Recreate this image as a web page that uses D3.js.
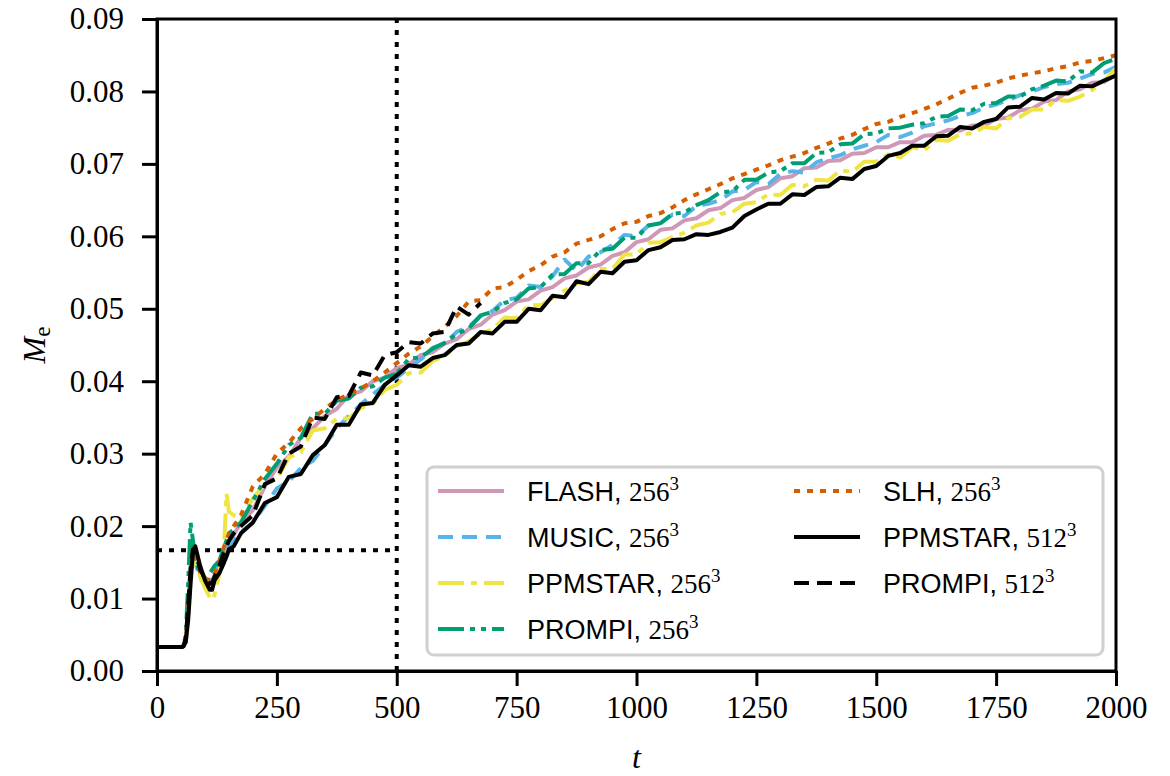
<!DOCTYPE html>
<html>
<head>
<meta charset="utf-8">
<script src="https://cdn.jsdelivr.net/npm/d3@7"></script>
<style>
  body { margin: 0; background: #fff; }
  .axis path, .axis line { stroke: #000; stroke-width: 3px; }
  .legend text { font-family: "Liberation Sans", Arial, sans-serif; font-size: 27px; fill: #000; }
  .legend .num { font-family: "Liberation Serif", "Times New Roman", serif; }
</style>
</head>
<body>
<div class="chartdiv"></div>
<script>
/*
entrained mass M_e against time t for the different codes
*/

// time grid shared by all runs
var tGrid = [0, 50, 55, 60, 65, 70, 75, 80, 90, 100, 110, 115, 120, 130, 140, 145, 150, 160, 175,
  200, 225, 250, 275, 300, 325, 350, 375, 400, 425, 450, 475, 500, 525, 550, 575, 600, 625, 650, 675,
  700, 725, 750, 775, 800, 825, 850, 875, 900, 925, 950, 975, 1000, 1025, 1050, 1075, 1100, 1125,
  1150, 1175, 1200, 1225, 1250, 1275, 1300, 1325, 1350, 1375, 1400, 1425, 1450, 1475, 1500, 1525,
  1550, 1575, 1600, 1625, 1650, 1675, 1700, 1725, 1750, 1775, 1800, 1825, 1850, 1875, 1900, 1925,
  1950, 1975, 2000];

// FLASH, 256^3
var flash = [0.0033, 0.0033, 0.0034, 0.0042, 0.0090, 0.0145, 0.0172, 0.0165, 0.0135, 0.0128, 0.0122, 0.0125, 0.0132, 0.0148, 0.0165, 0.0172, 0.0178, 0.0188, 0.0205,
  0.0222, 0.0255, 0.0281, 0.0296, 0.0322, 0.0335, 0.0352, 0.0362, 0.0381, 0.0386, 0.0400, 0.0405, 0.0418, 0.0423, 0.0436, 0.0440, 0.0452, 0.0458, 0.0472, 0.0478,
  0.0492, 0.0498, 0.0510, 0.0513, 0.0525, 0.0530, 0.0542, 0.0546, 0.0557, 0.0561, 0.0573, 0.0578, 0.0592, 0.0596, 0.0609, 0.0611, 0.0622, 0.0625,
  0.0636, 0.0639, 0.0650, 0.0653, 0.0664, 0.0668, 0.0680, 0.0683, 0.0694, 0.0695, 0.0704, 0.0705, 0.0714, 0.0715, 0.0723, 0.0723,
  0.0730, 0.0730, 0.0739, 0.0740, 0.0747, 0.0746, 0.0753, 0.0753, 0.0762, 0.0764, 0.0774, 0.0776, 0.0786, 0.0788, 0.0800, 0.0803,
  0.0812, 0.0813, 0.0824];

// MUSIC, 256^3
var music = [0.0033, 0.0033, 0.0034, 0.0040, 0.0080, 0.0135, 0.0160, 0.0150, 0.0128, 0.0120, 0.0125, 0.0130, 0.0138, 0.0150, 0.0160, 0.0165, 0.0172, 0.0180, 0.0192,
  0.0205, 0.0228, 0.0252, 0.0262, 0.0280, 0.0290, 0.0312, 0.0335, 0.0352, 0.0368, 0.0382, 0.0395, 0.0405, 0.0418, 0.0430, 0.0446, 0.0452, 0.0468, 0.0475, 0.0490,
  0.0497, 0.0512, 0.0515, 0.0532, 0.0530, 0.0545, 0.0568, 0.0552, 0.0572, 0.0578, 0.0588, 0.0602, 0.0600, 0.0615, 0.0618, 0.0630, 0.0628, 0.0642,
  0.0645, 0.0650, 0.0662, 0.0664, 0.0675, 0.0672, 0.0686, 0.0690, 0.0688, 0.0702, 0.0708, 0.0712, 0.0720, 0.0725, 0.0730, 0.0740,
  0.0737, 0.0743, 0.0752, 0.0756, 0.0760, 0.0766, 0.0770, 0.0778, 0.0782, 0.0788, 0.0795, 0.0800, 0.0806, 0.0810, 0.0812, 0.0818,
  0.0824, 0.0826, 0.0834];

// PPMSTAR, 256^3
var ppmstar256 = [0.0033, 0.0033, 0.0034, 0.0040, 0.0080, 0.0130, 0.0160, 0.0150, 0.0130, 0.0115, 0.0102, 0.0098, 0.0105, 0.0135, 0.0175, 0.0245, 0.0220, 0.0215, 0.0210,
  0.0238, 0.0258, 0.0265, 0.0295, 0.0302, 0.0332, 0.0335, 0.0348, 0.0349, 0.0363, 0.0369, 0.0388, 0.0395, 0.0411, 0.0412, 0.0428, 0.0435, 0.0448, 0.0455, 0.0465,
  0.0472, 0.0488, 0.0487, 0.0505, 0.0505, 0.0515, 0.0525, 0.0535, 0.0537, 0.0555, 0.0555, 0.0575, 0.0575, 0.0591, 0.0592, 0.0599, 0.0605, 0.0615,
  0.0619, 0.0631, 0.0633, 0.0645, 0.0647, 0.0658, 0.0657, 0.0671, 0.0669, 0.0678, 0.0677, 0.0691, 0.0689, 0.0703, 0.0703, 0.0713,
  0.0709, 0.0723, 0.0719, 0.0733, 0.0732, 0.0741, 0.0742, 0.0751, 0.0749, 0.0763, 0.0765, 0.0775, 0.0775, 0.0788, 0.0787, 0.0793,
  0.0802, 0.0815, 0.0832];

// PROMPI, 256^3
var prompi256 = [0.0033, 0.0033, 0.0034, 0.0050, 0.0120, 0.0205, 0.0180, 0.0152, 0.0135, 0.0130, 0.0135, 0.0140, 0.0145, 0.0152, 0.0172, 0.0180, 0.0190, 0.0195, 0.0205,
  0.0235, 0.0265, 0.0286, 0.0312, 0.0322, 0.0355, 0.0355, 0.0373, 0.0376, 0.0391, 0.0393, 0.0405, 0.0410, 0.0431, 0.0433, 0.0445, 0.0453, 0.0465, 0.0473, 0.0491,
  0.0496, 0.0508, 0.0513, 0.0528, 0.0530, 0.0547, 0.0548, 0.0563, 0.0563, 0.0581, 0.0583, 0.0598, 0.0598, 0.0615, 0.0618, 0.0631, 0.0633, 0.0643,
  0.0650, 0.0661, 0.0662, 0.0678, 0.0678, 0.0688, 0.0690, 0.0701, 0.0701, 0.0715, 0.0716, 0.0727, 0.0728, 0.0741, 0.0742, 0.0749,
  0.0750, 0.0754, 0.0756, 0.0765, 0.0766, 0.0775, 0.0774, 0.0783, 0.0784, 0.0793, 0.0793, 0.0803, 0.0808, 0.0815, 0.0814, 0.0828,
  0.0826, 0.0839, 0.0845];

// SLH, 256^3
var slh = [0.0033, 0.0033, 0.0034, 0.0042, 0.0085, 0.0140, 0.0168, 0.0160, 0.0135, 0.0128, 0.0125, 0.0128, 0.0135, 0.0150, 0.0172, 0.0180, 0.0190, 0.0200, 0.0215,
  0.0255, 0.0272, 0.0300, 0.0315, 0.0335, 0.0348, 0.0362, 0.0374, 0.0382, 0.0390, 0.0400, 0.0412, 0.0425, 0.0438, 0.0448, 0.0462, 0.0475, 0.0490, 0.0510, 0.0512,
  0.0528, 0.0530, 0.0540, 0.0552, 0.0560, 0.0572, 0.0578, 0.0590, 0.0595, 0.0600, 0.0610, 0.0618, 0.0620, 0.0628, 0.0632, 0.0640, 0.0650, 0.0658,
  0.0665, 0.0672, 0.0680, 0.0686, 0.0692, 0.0698, 0.0705, 0.0710, 0.0715, 0.0722, 0.0728, 0.0735, 0.0740, 0.0748, 0.0755, 0.0758,
  0.0765, 0.0770, 0.0776, 0.0782, 0.0790, 0.0798, 0.0805, 0.0808, 0.0812, 0.0818, 0.0822, 0.0825, 0.0828, 0.0832, 0.0835, 0.0840,
  0.0842, 0.0846, 0.0850];

// PPMSTAR, 512^3
var ppmstar512 = [0.0033, 0.0033, 0.0034, 0.0040, 0.0070, 0.0120, 0.0165, 0.0172, 0.0145, 0.0125, 0.0112, 0.0112, 0.0125, 0.0135, 0.0150, 0.0158, 0.0168, 0.0172, 0.0190,
  0.0205, 0.0232, 0.0240, 0.0268, 0.0272, 0.0298, 0.0312, 0.0340, 0.0340, 0.0368, 0.0370, 0.0395, 0.0408, 0.0422, 0.0420, 0.0432, 0.0436, 0.0450, 0.0452, 0.0468,
  0.0466, 0.0482, 0.0482, 0.0500, 0.0498, 0.0518, 0.0516, 0.0538, 0.0534, 0.0551, 0.0549, 0.0565, 0.0567, 0.0581, 0.0585, 0.0595, 0.0596, 0.0603,
  0.0602, 0.0606, 0.0612, 0.0628, 0.0637, 0.0645, 0.0645, 0.0658, 0.0657, 0.0668, 0.0669, 0.0681, 0.0679, 0.0693, 0.0697, 0.0711,
  0.0715, 0.0725, 0.0725, 0.0738, 0.0739, 0.0751, 0.0749, 0.0758, 0.0762, 0.0778, 0.0779, 0.0791, 0.0789, 0.0798, 0.0797, 0.0808,
  0.0807, 0.0815, 0.0822];

// PROMPI, 512^3 (run stops near t = 680)
var prompi512 = [0.0033, 0.0033, 0.0034, 0.0045, 0.0090, 0.0140, 0.0168, 0.0165, 0.0140, 0.0128, 0.0120, 0.0122, 0.0130, 0.0145, 0.0165, 0.0172, 0.0180, 0.0190, 0.0200,
  0.0215, 0.0258, 0.0266, 0.0300, 0.0310, 0.0350, 0.0348, 0.0378, 0.0380, 0.0412, 0.0408, 0.0436, 0.0440, 0.0454, 0.0452, 0.0466, 0.0468, 0.0503, 0.0492, 0.0508];

// tick labels
var xTicks = [0, 250, 500, 750, 1000, 1250, 1500, 1750, 2000];
var yTicks = [0, 0.01, 0.02, 0.03, 0.04, 0.05, 0.06, 0.07, 0.08, 0.09];

// dotted reference lines
var refT = 500;
var refM = 0.01667;

// series, in drawing order
var runs = [
  {code: "FLASH", res: "256", values: flash, color: "#cf98b6", dash: null},
  {code: "MUSIC", res: "256", values: music, color: "#56b4e9", dash: "15,9"},
  {code: "PPMSTAR", res: "256", values: ppmstar256, color: "#f0e442", dash: "26,7,6,7"},
  {code: "PROMPI", res: "256", values: prompi256, color: "#009e73", dash: "26,6,5,6,5,6"},
  {code: "SLH", res: "256", values: slh, color: "#d55e00", dash: "6,7"},
  {code: "PPMSTAR", res: "512", values: ppmstar512, color: "#000000", dash: null},
  {code: "PROMPI", res: "512", values: prompi512, color: "#000000", dash: "15,8"}
];

// set padding around the plot
var margin = {top: 19, right: 54, bottom: 105, left: 157};
var width = 1170 - margin.left - margin.right;
var height = 776 - margin.top - margin.bottom;

var x = d3.scaleLinear().domain([0, 2000]).range([0, width]);
var y = d3.scaleLinear().domain([0, 0.09]).range([height, 0]);

var svg = d3.select(".chartdiv")
    .append("svg")
    .attr("width", width + margin.left + margin.right)
    .attr("height", height + margin.top + margin.bottom)
    .append("g")
    .attr("transform", "translate(" + margin.left + "," + margin.top + ")");

svg.append("clipPath")
    .attr("id", "plotclip")
  .append("rect")
    .attr("width", width)
    .attr("height", height);

// dotted guides
svg.append("line")
    .attr("x1", x(0)).attr("x2", x(refT))
    .attr("y1", y(refM)).attr("y2", y(refM))
    .attr("stroke", "#000").attr("stroke-width", 4)
    .attr("stroke-dasharray", "5,7");

svg.append("line")
    .attr("x1", x(refT)).attr("x2", x(refT))
    .attr("y1", y(0)).attr("y2", y(0.09))
    .attr("stroke", "#000").attr("stroke-width", 4)
    .attr("stroke-dasharray", "5,7");

// the curves
var line = d3.line()
    .x(function(d) { return x(d[0]); })
    .y(function(d) { return y(d[1]); });

var curves = svg.append("g").attr("clip-path", "url(#plotclip)");

runs.forEach(function(r) {
  var pts = r.values.map(function(v, i) { return [tGrid[i], v]; });
  curves.append("path")
      .datum(pts)
      .attr("d", line)
      .attr("fill", "none")
      .attr("stroke", r.color)
      .attr("stroke-width", 4)
      .attr("stroke-linejoin", "round")
      .attr("stroke-dasharray", r.dash);
});

// axes
var xAxisG = svg.append("g")
    .classed("axis", true)
    .attr("transform", "translate(0," + height + ")")
    .call(d3.axisBottom(x).tickValues(xTicks).tickSize(15).tickSizeOuter(0).tickPadding(10)
      .tickFormat(d3.format("d")));

var yAxisG = svg.append("g")
    .classed("axis", true)
    .call(d3.axisLeft(y).tickValues(yTicks).tickSize(15).tickSizeOuter(0).tickPadding(18)
      .tickFormat(d3.format(".2f")));

[xAxisG, yAxisG].forEach(function(g) {
  g.attr("font-family", null).attr("font-size", null);
  g.selectAll("text")
      .style("font-family", "'Liberation Serif', 'Times New Roman', serif")
      .style("font-size", "31px")
      .style("fill", "#000");
});

// frame
svg.append("rect")
    .attr("width", width)
    .attr("height", height)
    .attr("fill", "none")
    .attr("stroke", "#000")
    .attr("stroke-width", 3);

// axis labels
svg.append("text")
    .attr("x", width / 2)
    .attr("y", height + 97)
    .style("font-family", "'Liberation Serif', serif")
    .style("font-size", "32px")
    .style("font-style", "italic")
    .style("text-anchor", "middle")
    .text("t");

var ylab = svg.append("text")
    .attr("transform", "translate(" + (-112) + "," + (height / 2) + ") rotate(-90)")
    .style("font-family", "'Liberation Serif', serif")
    .style("font-size", "32px")
    .style("text-anchor", "middle");
ylab.append("tspan").style("font-style", "italic").text("M");
ylab.append("tspan").attr("dy", 5).style("font-size", "23px").text("e");

// legend
var legend = svg.append("g")
    .classed("legend", true)
    .attr("transform", "translate(270,448)");

legend.append("rect")
    .attr("width", 676)
    .attr("height", 188)
    .attr("rx", 7)
    .attr("fill", "#fff")
    .attr("stroke", "#d0d0d0")
    .attr("stroke-width", 3);

runs.forEach(function(r, i) {
  var col = i < 4 ? 0 : 1;
  var row = i < 4 ? i : i - 4;
  var g = legend.append("g")
      .attr("transform", "translate(" + (11 + col * 356) + "," + (24 + row * 46) + ")");
  g.append("line")
      .attr("x1", 0).attr("x2", 66)
      .attr("stroke", r.color)
      .attr("stroke-width", 4)
      .attr("stroke-dasharray", r.dash);
  var t = g.append("text")
      .attr("x", 89)
      .attr("y", 10);
  t.append("tspan").text(r.code + ", ");
  t.append("tspan").classed("num", true).text(r.res);
  t.append("tspan").classed("num", true).attr("dy", -11).style("font-size", "19px").text("3");
});
</script>
</body>
</html>
